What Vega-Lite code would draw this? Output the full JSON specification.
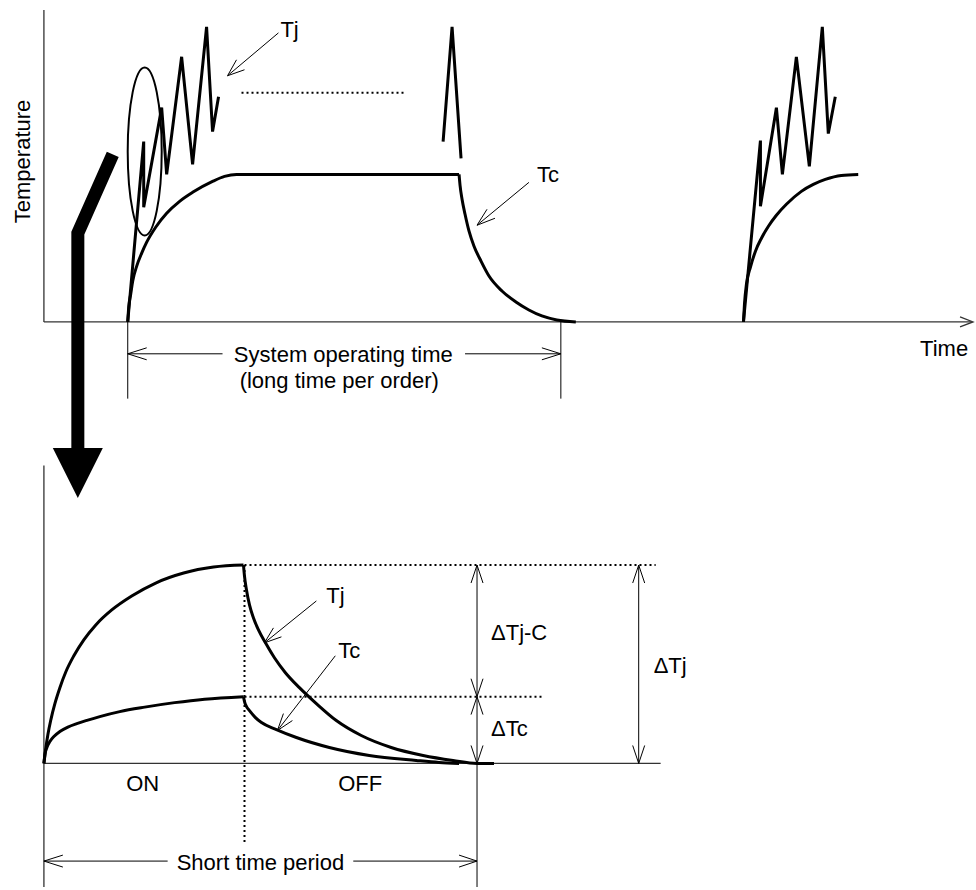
{
  "$schema": "https://vega.github.io/schema/vega-lite/v6.json",
  "width": 976,
  "height": 890,
  "autosize": {"type": "fit", "contains": "padding"},
  "padding": 0,
  "background": "white",
  "view": {"stroke": null},
  "config": {"text": {"font": "Liberation Sans", "fontSize": 22, "color": "black"}},
  "datasets": {
    "axes": [
      {"s": "a1", "x": 44, "y": 10}, {"s": "a1", "x": 44, "y": 323},
      {"s": "a2", "x": 44, "y": 323}, {"s": "a2", "x": 973, "y": 323},
      {"s": "a3", "x": 962, "y": 318}, {"s": "a3", "x": 975, "y": 323}, {"s": "a3", "x": 962, "y": 328},
      {"s": "a4", "x": 44, "y": 467}, {"s": "a4", "x": 44, "y": 890},
      {"s": "a5", "x": 44, "y": 766}, {"s": "a5", "x": 662, "y": 766}
    ],
    "thin": [
      {"s": "t1", "x": 128, "y": 323}, {"s": "t1", "x": 128, "y": 400},
      {"s": "t2", "x": 562, "y": 323}, {"s": "t2", "x": 562, "y": 400},
      {"s": "t3", "x": 128, "y": 355}, {"s": "t3", "x": 223, "y": 355},
      {"s": "t4", "x": 466, "y": 355}, {"s": "t4", "x": 562, "y": 355},
      {"s": "t5", "x": 147, "y": 349}, {"s": "t5", "x": 128, "y": 355}, {"s": "t5", "x": 147, "y": 361},
      {"s": "t6", "x": 543, "y": 349}, {"s": "t6", "x": 562, "y": 355}, {"s": "t6", "x": 543, "y": 361},
      {"s": "t7", "x": 279, "y": 33}, {"s": "t7", "x": 228, "y": 76},
      {"s": "t8", "x": 237, "y": 60}, {"s": "t8", "x": 228, "y": 76}, {"s": "t8", "x": 245, "y": 70},
      {"s": "t9", "x": 530, "y": 183}, {"s": "t9", "x": 478, "y": 226},
      {"s": "t10", "x": 488, "y": 210}, {"s": "t10", "x": 478, "y": 226}, {"s": "t10", "x": 496, "y": 219},
      {"s": "t11", "x": 478, "y": 567}, {"s": "t11", "x": 478, "y": 890},
      {"s": "t12", "x": 640, "y": 567}, {"s": "t12", "x": 640, "y": 766},
      {"s": "t13", "x": 472, "y": 585}, {"s": "t13", "x": 478, "y": 567}, {"s": "t13", "x": 484, "y": 585},
      {"s": "t14", "x": 472, "y": 681}, {"s": "t14", "x": 478, "y": 699}, {"s": "t14", "x": 484, "y": 681},
      {"s": "t15", "x": 472, "y": 717}, {"s": "t15", "x": 478, "y": 699}, {"s": "t15", "x": 484, "y": 717},
      {"s": "t16", "x": 472, "y": 748}, {"s": "t16", "x": 478, "y": 766}, {"s": "t16", "x": 484, "y": 748},
      {"s": "t17", "x": 634, "y": 585}, {"s": "t17", "x": 640, "y": 567}, {"s": "t17", "x": 646, "y": 585},
      {"s": "t18", "x": 634, "y": 748}, {"s": "t18", "x": 640, "y": 766}, {"s": "t18", "x": 646, "y": 748},
      {"s": "t19", "x": 44, "y": 864}, {"s": "t19", "x": 168, "y": 864},
      {"s": "t20", "x": 354, "y": 864}, {"s": "t20", "x": 478, "y": 864},
      {"s": "t21", "x": 63, "y": 858}, {"s": "t21", "x": 44, "y": 864}, {"s": "t21", "x": 63, "y": 870},
      {"s": "t22", "x": 460, "y": 858}, {"s": "t22", "x": 478, "y": 864}, {"s": "t22", "x": 460, "y": 870},
      {"s": "t23", "x": 317, "y": 603}, {"s": "t23", "x": 265, "y": 645},
      {"s": "t24", "x": 274, "y": 630}, {"s": "t24", "x": 265, "y": 645}, {"s": "t24", "x": 282, "y": 639},
      {"s": "t25", "x": 336, "y": 658}, {"s": "t25", "x": 278, "y": 733},
      {"s": "t26", "x": 284, "y": 716}, {"s": "t26", "x": 278, "y": 733}, {"s": "t26", "x": 293, "y": 723}
    ],
    "dotted": [
      {"s": "d1", "x": 242, "y": 93}, {"s": "d1", "x": 407, "y": 93},
      {"s": "d2", "x": 245, "y": 567}, {"s": "d2", "x": 245, "y": 847},
      {"s": "d3", "x": 245, "y": 567}, {"s": "d3", "x": 657, "y": 567},
      {"s": "d4", "x": 245, "y": 699}, {"s": "d4", "x": 545, "y": 699}
    ],
    "curves": [
      {"s": "c1", "x": 128, "y": 323}, {"s": "c1", "x": 129, "y": 308}, {"s": "c1", "x": 131, "y": 295}, {"s": "c1", "x": 133, "y": 282},
      {"s": "c1", "x": 137, "y": 267}, {"s": "c1", "x": 142, "y": 254}, {"s": "c1", "x": 147, "y": 243}, {"s": "c1", "x": 156, "y": 228},
      {"s": "c1", "x": 167, "y": 214}, {"s": "c1", "x": 180, "y": 202}, {"s": "c1", "x": 193, "y": 193}, {"s": "c1", "x": 213, "y": 182},
      {"s": "c1", "x": 225, "y": 177}, {"s": "c1", "x": 237, "y": 175}, {"s": "c1", "x": 460, "y": 175},
      {"s": "c2", "x": 460, "y": 175}, {"s": "c2", "x": 461, "y": 186}, {"s": "c2", "x": 463, "y": 200}, {"s": "c2", "x": 466, "y": 215},
      {"s": "c2", "x": 470, "y": 232}, {"s": "c2", "x": 475, "y": 247}, {"s": "c2", "x": 482, "y": 262}, {"s": "c2", "x": 490, "y": 277},
      {"s": "c2", "x": 503, "y": 292}, {"s": "c2", "x": 517, "y": 303}, {"s": "c2", "x": 530, "y": 311}, {"s": "c2", "x": 543, "y": 317},
      {"s": "c2", "x": 558, "y": 321}, {"s": "c2", "x": 577, "y": 323},
      {"s": "c3", "x": 745, "y": 323}, {"s": "c3", "x": 746, "y": 305}, {"s": "c3", "x": 748, "y": 285}, {"s": "c3", "x": 752, "y": 268},
      {"s": "c3", "x": 757, "y": 252}, {"s": "c3", "x": 763, "y": 239}, {"s": "c3", "x": 770, "y": 227}, {"s": "c3", "x": 778, "y": 216},
      {"s": "c3", "x": 788, "y": 205}, {"s": "c3", "x": 803, "y": 192}, {"s": "c3", "x": 815, "y": 185}, {"s": "c3", "x": 827, "y": 180},
      {"s": "c3", "x": 843, "y": 176}, {"s": "c3", "x": 860, "y": 175},
      {"s": "c4", "x": 44, "y": 766}, {"s": "c4", "x": 46, "y": 750}, {"s": "c4", "x": 48, "y": 737}, {"s": "c4", "x": 51, "y": 722},
      {"s": "c4", "x": 55, "y": 706}, {"s": "c4", "x": 60, "y": 690}, {"s": "c4", "x": 66, "y": 674}, {"s": "c4", "x": 74, "y": 658},
      {"s": "c4", "x": 84, "y": 642}, {"s": "c4", "x": 96, "y": 627}, {"s": "c4", "x": 112, "y": 612}, {"s": "c4", "x": 132, "y": 598},
      {"s": "c4", "x": 156, "y": 585}, {"s": "c4", "x": 184, "y": 575}, {"s": "c4", "x": 214, "y": 569}, {"s": "c4", "x": 244, "y": 567},
      {"s": "c5", "x": 244, "y": 567}, {"s": "c5", "x": 245, "y": 578}, {"s": "c5", "x": 247, "y": 592}, {"s": "c5", "x": 250, "y": 607},
      {"s": "c5", "x": 254, "y": 620}, {"s": "c5", "x": 259, "y": 632}, {"s": "c5", "x": 266, "y": 645}, {"s": "c5", "x": 275, "y": 660},
      {"s": "c5", "x": 286, "y": 675}, {"s": "c5", "x": 300, "y": 690}, {"s": "c5", "x": 317, "y": 706}, {"s": "c5", "x": 337, "y": 723},
      {"s": "c5", "x": 362, "y": 738}, {"s": "c5", "x": 392, "y": 750}, {"s": "c5", "x": 424, "y": 758}, {"s": "c5", "x": 454, "y": 763},
      {"s": "c5", "x": 478, "y": 766}, {"s": "c5", "x": 495, "y": 766},
      {"s": "c6", "x": 44, "y": 766}, {"s": "c6", "x": 45, "y": 757}, {"s": "c6", "x": 47, "y": 750}, {"s": "c6", "x": 50, "y": 744},
      {"s": "c6", "x": 54, "y": 739}, {"s": "c6", "x": 60, "y": 734}, {"s": "c6", "x": 68, "y": 729.5}, {"s": "c6", "x": 77, "y": 726},
      {"s": "c6", "x": 88, "y": 722.5}, {"s": "c6", "x": 100, "y": 719}, {"s": "c6", "x": 120, "y": 714}, {"s": "c6", "x": 145, "y": 709.5},
      {"s": "c6", "x": 175, "y": 705}, {"s": "c6", "x": 205, "y": 701.5}, {"s": "c6", "x": 244, "y": 699},
      {"s": "c7", "x": 244, "y": 699}, {"s": "c7", "x": 245, "y": 704}, {"s": "c7", "x": 247, "y": 709}, {"s": "c7", "x": 250, "y": 713},
      {"s": "c7", "x": 256, "y": 720}, {"s": "c7", "x": 262, "y": 725}, {"s": "c7", "x": 277, "y": 732}, {"s": "c7", "x": 297, "y": 740},
      {"s": "c7", "x": 330, "y": 750}, {"s": "c7", "x": 370, "y": 758}, {"s": "c7", "x": 417, "y": 763}, {"s": "c7", "x": 440, "y": 765},
      {"s": "c7", "x": 460, "y": 766}
    ],
    "zig": [
      {"s": "z1", "x": 128, "y": 323}, {"s": "z1", "x": 144, "y": 142}, {"s": "z1", "x": 144, "y": 208}, {"s": "z1", "x": 162, "y": 108},
      {"s": "z1", "x": 167, "y": 175}, {"s": "z1", "x": 182, "y": 57}, {"s": "z1", "x": 193, "y": 165}, {"s": "z1", "x": 207, "y": 27},
      {"s": "z1", "x": 213, "y": 132}, {"s": "z1", "x": 219, "y": 97},
      {"s": "z2", "x": 444, "y": 142}, {"s": "z2", "x": 453, "y": 27}, {"s": "z2", "x": 462, "y": 159},
      {"s": "z3", "x": 745, "y": 323}, {"s": "z3", "x": 762, "y": 141}, {"s": "z3", "x": 762, "y": 207}, {"s": "z3", "x": 778, "y": 108},
      {"s": "z3", "x": 784, "y": 175}, {"s": "z3", "x": 798, "y": 57}, {"s": "z3", "x": 811, "y": 167}, {"s": "z3", "x": 824, "y": 27},
      {"s": "z3", "x": 830, "y": 134}, {"s": "z3", "x": 837, "y": 97}
    ],
    "bigarrow": [
      {"s": "b", "x": 113, "y": 155}, {"s": "b", "x": 78, "y": 234}, {"s": "b", "x": 78, "y": 452}
    ],
    "head": [{"x": 78, "y": 474.5}],
    "ellipse": [{"x": 145, "y": 152}],
    "labelsLeft": [
      {"t": "Tj", "x": 281, "y": 37},
      {"t": "Tc", "x": 538, "y": 183},
      {"t": "Time", "x": 922, "y": 357},
      {"t": "Tj", "x": 327, "y": 605},
      {"t": "Tc", "x": 339, "y": 660},
      {"t": "ΔTj-C", "x": 492, "y": 642},
      {"t": "ΔTc", "x": 492, "y": 738},
      {"t": "ΔTj", "x": 655, "y": 675}
    ],
    "labelsCenter": [
      {"t": "System operating time", "x": 344, "y": 363},
      {"t": "(long time per order)", "x": 340, "y": 389},
      {"t": "ON", "x": 143, "y": 794},
      {"t": "OFF", "x": 361, "y": 794},
      {"t": "Short time period", "x": 261, "y": 873}
    ],
    "labelsRot": [
      {"t": "Temperature", "x": 30, "y": 162}
    ]
  },
  "encoding": {
    "x": {"field": "x", "type": "quantitative", "scale": {"domain": [0, 976], "nice": false, "zero": false}, "axis": null},
    "y": {"field": "y", "type": "quantitative", "scale": {"domain": [0, 890], "nice": false, "zero": false, "reverse": true}, "axis": null}
  },
  "layer": [
    {
      "data": {"name": "axes"},
      "mark": {"type": "line", "stroke": "#333333", "strokeWidth": 1.3},
      "encoding": {"detail": {"field": "s"}, "order": {"value": null}}
    },
    {
      "data": {"name": "thin"},
      "mark": {"type": "line", "stroke": "black", "strokeWidth": 1},
      "encoding": {"detail": {"field": "s"}, "order": {"value": null}}
    },
    {
      "data": {"name": "dotted"},
      "mark": {"type": "line", "stroke": "black", "strokeWidth": 2, "strokeDash": [2, 3]},
      "encoding": {"detail": {"field": "s"}, "order": {"value": null}}
    },
    {
      "data": {"name": "curves"},
      "mark": {"type": "line", "stroke": "black", "strokeWidth": 3, "interpolate": "monotone"},
      "encoding": {"detail": {"field": "s"}, "order": {"value": null}}
    },
    {
      "data": {"name": "zig"},
      "mark": {"type": "line", "stroke": "black", "strokeWidth": 3, "strokeJoin": "miter", "strokeCap": "butt"},
      "encoding": {"detail": {"field": "s"}, "order": {"value": null}}
    },
    {
      "data": {"name": "bigarrow"},
      "mark": {"type": "line", "stroke": "black", "strokeWidth": 13, "strokeJoin": "miter", "strokeCap": "butt"},
      "encoding": {"detail": {"field": "s"}, "order": {"value": null}}
    },
    {
      "data": {"name": "head"},
      "mark": {"type": "point", "shape": "M-1,-1L1,-1L0,1Z", "size": 2500, "filled": true, "fill": "black", "opacity": 1, "strokeWidth": 0}
    },
    {
      "data": {"name": "ellipse"},
      "mark": {"type": "point", "shape": "M0,-1A0.2024,1,0,0,1,0,1A0.2024,1,0,0,1,0,-1Z", "size": 28224, "filled": false, "stroke": "black", "strokeWidth": 2, "opacity": 1}
    },
    {
      "data": {"name": "labelsLeft"},
      "mark": {"type": "text", "align": "left", "baseline": "alphabetic"},
      "encoding": {"text": {"field": "t"}}
    },
    {
      "data": {"name": "labelsCenter"},
      "mark": {"type": "text", "align": "center", "baseline": "alphabetic"},
      "encoding": {"text": {"field": "t"}}
    },
    {
      "data": {"name": "labelsRot"},
      "mark": {"type": "text", "align": "center", "baseline": "alphabetic", "angle": 270},
      "encoding": {"text": {"field": "t"}}
    }
  ]
}
